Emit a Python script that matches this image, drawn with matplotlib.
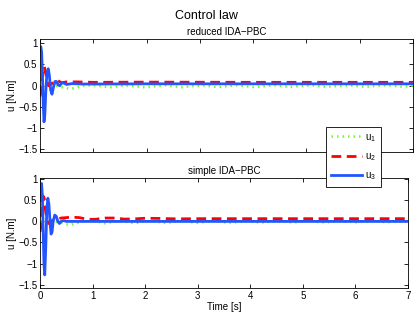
import matplotlib
matplotlib.use("Agg")
import matplotlib.pyplot as plt
from matplotlib.lines import Line2D

plt.rcParams['font.family'] = ['Liberation Sans', 'DejaVu Sans']
plt.rcParams['mathtext.fontset'] = 'custom'
plt.rcParams['mathtext.rm'] = 'Liberation Sans'
plt.rcParams['mathtext.it'] = 'Liberation Sans'

# ---------------- data ----------------
title = "Control law"
subtitles = ["reduced IDA\u2212PBC", "simple IDA\u2212PBC"]
legend_labels = [r"u$_1$", r"u$_2$", r"u$_3$"]
xticks = [0, 1, 2, 3, 4, 5, 6, 7]
yticks = [-1.5, -1, -0.5, 0, 0.5, 1]
ytick_labels = ["\u22121.5", "\u22121", "\u22120.5", "0", "0.5", "1"]

# top panel (reduced IDA-PBC)
top_u1_t = [0, 0.1, 0.2, 0.3, 0.4, 0.5, 0.58, 0.68, 0.8, 1.0, 1.2, 1.3, 1.42, 1.6, 1.85, 1.97, 2.1, 2.35,
            2.55, 2.65, 2.78, 3.05, 3.25, 3.33, 3.45, 3.7, 3.92, 4.0, 4.12, 4.4, 4.6, 4.7, 4.8, 5.1,
            5.3, 5.4, 5.5, 5.8, 6.0, 6.1, 6.2, 6.5, 6.7, 6.8, 6.9, 7.0]
top_u1 = [0.0, 0.04, 0.03, 0.0, -0.03, -0.06, -0.07, -0.05, 0.0, 0.01, -0.02, -0.04, -0.02, 0.01, -0.02, -0.04,
          -0.02, 0.01, -0.02, -0.035, -0.02, 0.01, -0.02, -0.03, -0.02, 0.01, -0.02, -0.03, -0.02, 0.01,
          -0.015, -0.03, -0.015, 0.01, -0.015, -0.025, -0.015, 0.01, -0.015, -0.025, -0.015, 0.01, -0.01,
          -0.025, -0.01, 0.0]
top_u2_t = [0, 0.02, 0.04, 0.06, 0.08, 0.1, 0.13, 0.16, 0.2, 0.25, 0.3, 0.34, 0.4, 0.5, 0.7, 1.0, 2.0, 4.0, 7.0]
top_u2 = [-0.25, -0.15, 0.15, 0.4, 0.45, 0.35, 0.12, 0.0, 0.03, 0.08, 0.12, 0.12, 0.07, 0.09, 0.09, 0.08, 0.085, 0.08, 0.08]
top_u3_t = [0, 0.015, 0.03, 0.045, 0.06, 0.075, 0.09, 0.11, 0.13, 0.155, 0.175, 0.2, 0.225, 0.25, 0.28, 0.31,
            0.34, 0.37, 0.41, 0.45, 0.5, 0.6, 0.8, 1.0, 2.0, 4.0, 7.0]
top_u3 = [0.85, 0.92, 0.8, 0.3, -0.4, -0.85, -0.7, -0.1, 0.3, 0.4, 0.25, -0.1, -0.2, -0.05, 0.1, 0.1,
          0.02, 0.0, 0.07, 0.06, 0.03, 0.05, 0.04, 0.04, 0.045, 0.045, 0.045]

# bottom panel (simple IDA-PBC)
bot_u1_t = [0, 0.1, 0.2, 0.3, 0.4, 0.5, 0.58, 0.68, 0.8, 1.0, 1.15, 1.25, 1.35, 1.5, 1.7, 1.8, 1.9, 2.05,
            2.3, 2.4, 2.5, 2.7, 2.9, 3.0, 3.1, 3.3, 3.5, 3.6, 3.7, 3.9, 4.1, 4.2, 4.3, 4.5, 4.7, 4.8,
            4.9, 5.1, 5.3, 5.4, 5.5, 5.7, 5.9, 6.0, 6.1, 6.3, 6.5, 6.6, 6.7, 7.0]
bot_u1 = [0.0, 0.05, 0.04, 0.0, -0.03, -0.07, -0.08, -0.05, 0.0, 0.01, -0.02, -0.05, -0.02, 0.01, -0.02,
          -0.045, -0.02, 0.01, -0.02, -0.04, -0.02, 0.01, -0.02, -0.035, -0.02, 0.01, -0.02, -0.03, -0.02,
          0.01, -0.015, -0.03, -0.015, 0.01, -0.015, -0.025, -0.015, 0.01, -0.015, -0.02, -0.015, 0.0,
          -0.01, -0.02, -0.01, 0.0, -0.01, -0.02, -0.01, 0.0]
bot_u2_t = [0, 0.02, 0.04, 0.06, 0.08, 0.1, 0.13, 0.16, 0.2, 0.3, 0.4, 0.6, 0.75, 0.9, 1.05, 1.25, 1.45,
            1.6, 1.8, 2.0, 2.3, 2.6, 3.0, 4.0, 7.0]
bot_u2 = [-0.25, -0.1, 0.3, 0.6, 0.55, 0.3, 0.05, -0.05, 0.0, 0.05, 0.08, 0.1, 0.09, 0.05, 0.05, 0.08, 0.08,
          0.055, 0.06, 0.075, 0.07, 0.06, 0.065, 0.065, 0.065]
bot_u3_t = [0, 0.015, 0.03, 0.045, 0.06, 0.075, 0.09, 0.11, 0.13, 0.15, 0.17, 0.19, 0.21, 0.23, 0.25,
            0.28, 0.31, 0.34, 0.37, 0.4, 0.45, 0.5, 0.6, 1.0, 4.0, 7.0]
bot_u3 = [0.5, 0.8, 0.9, 0.6, -0.2, -1.0, -1.27, -0.6, 0.3, 0.55, 0.4, 0.0, -0.3, -0.25, 0.0, 0.15,
          0.12, 0.0, -0.05, 0.0, 0.02, 0.0, 0.0, 0.0, 0.0, 0.0]

# ---------------- style ----------------
c_green = "#66ff22"
c_red = "#ff0000"
c_blue = "#2255ff"
ls_green = (0, (0.6, 1.6))
ls_red = (0, (3.5, 2.0))

fig = plt.figure(figsize=(4.19, 3.15), dpi=100)
ax1 = fig.add_axes([40/419, 1-152/315, 373/419, 113/315])
ax2 = fig.add_axes([40/419, 1-288/315, 368/419, 110/315])

panels = [
    (ax1, top_u1_t, top_u1, top_u2_t, top_u2, top_u3_t, top_u3, (-1.56, 1.1)),
    (ax2, bot_u1_t, bot_u1, bot_u2_t, bot_u2, bot_u3_t, bot_u3, (-1.58, 1.03)),
]
for i, (ax, t1, y1, t2, y2, t3, y3, yl) in enumerate(panels):
    ax.plot(t1, y1, color=c_green, lw=1.8, linestyle=ls_green)
    ax.plot(t2, y2, color=c_red, lw=2.0, linestyle=ls_red)
    ax.plot(t3, y3, color=c_blue, lw=2.0)
    ax.set_xlim(0, 7)
    ax.set_ylim(*yl)
    ax.set_xticks(xticks)
    ax.set_yticks(yticks)
    ax.set_yticklabels(ytick_labels)
    ax.tick_params(direction='in', length=3, width=0.6, top=True, right=True, labelsize=7, pad=2)
    for s in ax.spines.values():
        s.set_linewidth(0.6)
    ax.set_ylabel("u [N.m]", fontsize=7, labelpad=1)
    ax.set_title(subtitles[i], fontsize=7, pad=3)

ax1.set_xticklabels([])
ax2.set_xlabel("Time [s]", fontsize=7, labelpad=1)

fig.text(206/419, 1-16/315, title, ha='center', va='center', fontsize=9)

handles = [Line2D([], [], color=c_green, lw=1.8, linestyle=ls_green),
           Line2D([], [], color=c_red, lw=2.0, linestyle=ls_red),
           Line2D([], [], color=c_blue, lw=2.0)]
leg = fig.legend(handles, legend_labels, loc='upper left', bbox_to_anchor=(326/419, 1-127/315),
                 fontsize=7, frameon=True, fancybox=False, framealpha=1, edgecolor='black',
                 handlelength=3.2, handletextpad=0.3, borderpad=0.5, labelspacing=0.75, borderaxespad=0)
leg.get_frame().set_linewidth(0.6)

fig.savefig("out.png", dpi=100)
